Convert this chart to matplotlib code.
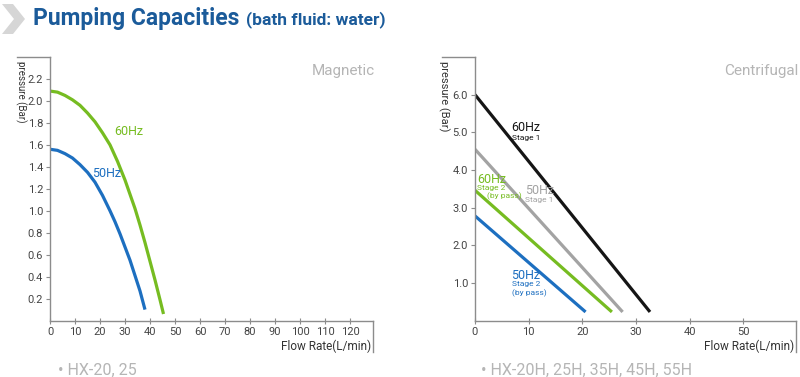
"""Pumping capacity curves for the HX bath circulators (magnetic vs centrifugal)."""

import matplotlib
matplotlib.use("Agg")
import matplotlib.pyplot as plt
from matplotlib.patches import Polygon

plt.rcParams["font.family"] = ["Liberation Sans Narrow", "Roboto", "DejaVu Sans"]

# --- magnetic pump (HX-20, 25) ---
mag_flow_60 = [0, 3, 6, 9, 12, 15, 18, 21, 24, 27, 30, 32, 34, 36, 38, 40, 42, 44, 45.4]
mag_pres_60 = [2.09, 2.08, 2.05, 2.01, 1.96, 1.89, 1.81, 1.71, 1.60, 1.45, 1.28,
               1.15, 1.02, 0.87, 0.71, 0.54, 0.37, 0.19, 0.06]
mag_flow_50 = [0, 3, 6, 9, 12, 15, 18, 21, 24, 26, 28, 30, 32, 34, 36, 38]
mag_pres_50 = [1.56, 1.55, 1.52, 1.48, 1.42, 1.35, 1.26, 1.14, 1.00, 0.90, 0.79,
               0.67, 0.55, 0.41, 0.27, 0.10]

# --- centrifugal pump (HX-20H ... 55H): straight lines, start/end points ---
cen_series = {
    "60Hz Stage 1": ([0.0, 32.6], [6.00, 0.23]),
    "50Hz Stage 1": ([0.0, 27.5], [4.55, 0.23]),
    "60Hz Stage 2": ([0.0, 25.5], [3.46, 0.23]),
    "50Hz Stage 2": ([0.0, 20.6], [2.78, 0.23]),
}

mag_xticks = list(range(0, 130, 10))
mag_yticks = [0.2, 0.4, 0.6, 0.8, 1.0, 1.2, 1.4, 1.6, 1.8, 2.0, 2.2]
cen_xticks = list(range(0, 60, 10))
cen_yticks = [1.0, 2.0, 3.0, 4.0, 5.0, 6.0]

GREEN = "#76bc21"
BLUE = "#1d6fc0"
BLACK = "#151515"
GRAY = "#a3a3a3"
AXIS = "#8c8c8c"
TXT = "#444444"
LIGHT = "#b5b5b5"
TITLE = "#1b5b9a"

W, H = 800, 377
fig = plt.figure(figsize=(W / 100, H / 100), dpi=100)


def px(x, y):
    """pixel (from top-left) -> figure fraction"""
    return x / W, 1 - y / H


def style_axes(ax, xticks, yticks, yfmt):
    for s in ("top", "right"):
        ax.spines[s].set_visible(False)
    for s in ("left", "bottom"):
        ax.spines[s].set_color(AXIS)
        ax.spines[s].set_linewidth(1.0)
    ax.set_xticks(xticks)
    ax.set_yticks(yticks)
    ax.set_yticklabels([yfmt.format(v) for v in yticks])
    ax.tick_params(axis="x", direction="inout", length=5, width=0.8, color=AXIS,
                   labelsize=8, labelcolor=TXT, pad=2)
    ax.tick_params(axis="y", direction="out", length=3, width=0.8, color=AXIS,
                   labelsize=8, labelcolor=TXT, pad=2)
    # bracket cap at top of y axis and drop line at end of x axis
    ax.plot([-0.103, 0], [1, 1], color=AXIS, lw=1.0, transform=ax.transAxes, clip_on=False)
    ax.plot([1, 1], [0, -0.118], color=AXIS, lw=1.0, transform=ax.transAxes, clip_on=False)


# left panel
l, b = px(50, 320.6)
ax1 = fig.add_axes([l, b, 323 / W, 263.6 / H])
ax1.set_xlim(0, 129.2)
ax1.set_ylim(0, 2.40)
style_axes(ax1, mag_xticks, mag_yticks, "{:.1f}")
ax1.plot(mag_flow_60, mag_pres_60, color=GREEN, lw=2.3, solid_capstyle="butt",
         solid_joinstyle="round")
ax1.plot(mag_flow_50, mag_pres_50, color=BLUE, lw=2.3, solid_capstyle="butt",
         solid_joinstyle="round")
ax1.text(25.7, 1.72, "60Hz", color=GREEN, fontsize=9, va="center")
ax1.text(16.9, 1.34, "50Hz", color=BLUE, fontsize=9, va="center")

# right panel
l, b = px(475, 320.6)
ax2 = fig.add_axes([l, b, 321 / W, 263.6 / H])
ax2.set_xlim(0, 59.8)
ax2.set_ylim(0, 7.0)
style_axes(ax2, cen_xticks, cen_yticks, "{:.1f}")
colors = [BLACK, GRAY, GREEN, BLUE]
for (name, (xs, ys)), c in zip(cen_series.items(), colors):
    ax2.plot(xs, ys, color=c, lw=2.3, solid_capstyle="butt")

ax2.text(6.8, 5.12, "60Hz", color=BLACK, fontsize=9, va="center")
ax2.text(6.8, 4.86, "Stage 1", color=BLACK, fontsize=6, va="center")
ax2.text(9.3, 3.45, "50Hz", color=GRAY, fontsize=9, va="center")
ax2.text(9.3, 3.20, "Stage 1", color=GRAY, fontsize=6, va="center")
ax2.text(0.4, 3.76, "60Hz", color=GREEN, fontsize=9, va="center")
ax2.text(0.4, 3.53, "Stage 2", color=GREEN, fontsize=6, va="center")
ax2.text(2.2, 3.31, "(by pass)", color=GREEN, fontsize=6, va="center")
ax2.text(6.8, 1.20, "50Hz", color=BLUE, fontsize=9, va="center")
ax2.text(6.8, 0.96, "Stage 2", color=BLUE, fontsize=6, va="center")
ax2.text(6.8, 0.74, "(by pass)", color=BLUE, fontsize=6, va="center")

# panel captions
fig.text(*px(375, 71), "Magnetic", color=LIGHT, fontsize=11, ha="right", va="center")
fig.text(*px(798, 71), "Centrifugal", color=LIGHT, fontsize=11, ha="right", va="center")

# y axis labels (rotated, reading downward)
fig.text(*px(21, 61), "pressure (Bar)", color="#333333", fontsize=7, rotation=270,
         ha="center", va="top")
fig.text(*px(444, 61), "pressure (Bar)", color="#333333", fontsize=8, rotation=270,
         ha="center", va="top")

# x axis labels
fig.text(*px(371, 346), "Flow Rate(L/min)", color="#333333", fontsize=8.5, ha="right", va="center")
fig.text(*px(794, 346), "Flow Rate(L/min)", color="#333333", fontsize=8.5, ha="right", va="center")

# footer model names
fig.text(*px(58, 370), "\u2022 HX-20, 25", color=LIGHT, fontsize=11.5, va="center")
fig.text(*px(481, 370), "\u2022 HX-20H, 25H, 35H, 45H, 55H", color=LIGHT, fontsize=11.5, va="center")

# heading
fig.text(*px(33, 19), "Pumping Capacities", color=TITLE, fontsize=16.5, fontweight="bold",
         va="center")
fig.text(*px(246, 20), "(bath fluid: water)", color=TITLE, fontsize=12.5, fontweight="bold",
         va="center")

# chevron marker
chev = [(2, 4), (13, 4), (25, 19), (13, 34), (2, 34), (14, 19)]
fig.patches.append(Polygon([px(x, y) for x, y in chev], closed=True, facecolor="#d6d6d6",
                           edgecolor="none", transform=fig.transFigure, figure=fig))

fig.savefig("out.png", dpi=100)
